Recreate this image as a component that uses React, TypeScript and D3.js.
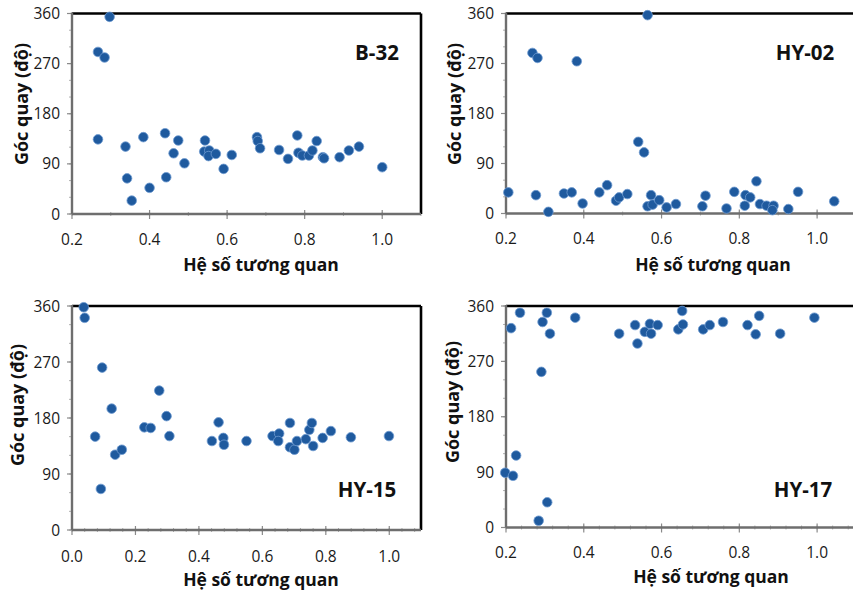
import React from "react";
import * as d3 from "d3";

// [correlation coefficient, rotation angle]
const b32: [number, number][] = [
  [0.297, 354], [0.267, 291], [0.284, 281], [0.267, 134], [0.338, 121],
  [0.384, 138], [0.342, 64], [0.354, 24], [0.44, 145], [0.474, 132],
  [0.462, 109], [0.49, 91], [0.4, 47], [0.443, 66], [0.543, 132],
  [0.541, 112], [0.554, 114], [0.552, 104], [0.571, 108], [0.591, 81],
  [0.612, 106], [0.677, 138], [0.679, 131], [0.685, 118], [0.734, 115],
  [0.757, 99], [0.781, 141], [0.784, 110], [0.794, 105], [0.811, 105],
  [0.82, 114], [0.831, 131], [0.847, 102], [0.85, 100], [0.89, 102],
  [0.914, 114], [0.94, 121], [1.0, 84],
];

const hy02: [number, number][] = [
  [0.564, 357], [0.268, 289], [0.281, 280], [0.382, 274], [0.54, 129],
  [0.555, 110], [0.206, 38], [0.277, 33], [0.309, 3], [0.349, 36],
  [0.369, 38], [0.397, 18], [0.44, 38], [0.46, 51], [0.483, 23],
  [0.491, 29], [0.512, 35], [0.564, 13], [0.573, 33], [0.577, 16],
  [0.594, 24], [0.613, 11], [0.637, 17], [0.705, 13], [0.713, 32],
  [0.767, 9], [0.787, 39], [0.814, 14], [0.816, 33], [0.828, 29],
  [0.844, 58], [0.853, 17], [0.87, 14], [0.888, 14], [0.885, 6],
  [0.926, 8], [0.951, 39], [1.044, 22],
];

const hy15: [number, number][] = [
  [0.037, 358], [0.04, 341], [0.095, 261], [0.073, 150], [0.091, 66],
  [0.125, 195], [0.136, 121], [0.157, 129], [0.228, 165], [0.248, 164],
  [0.275, 224], [0.298, 183], [0.307, 151], [0.441, 143], [0.462, 173],
  [0.477, 148], [0.479, 137], [0.55, 143], [0.632, 151], [0.653, 155],
  [0.65, 143], [0.687, 172], [0.687, 133], [0.701, 129], [0.709, 143],
  [0.737, 146], [0.748, 161], [0.756, 172], [0.76, 135], [0.79, 148],
  [0.816, 159], [0.879, 149], [0.999, 151],
];

const hy17: [number, number][] = [
  [0.198, 89], [0.218, 84], [0.226, 117], [0.213, 324], [0.236, 349],
  [0.291, 253], [0.294, 334], [0.305, 349], [0.313, 315], [0.306, 41],
  [0.284, 11], [0.378, 341], [0.491, 315], [0.532, 329], [0.538, 299],
  [0.557, 318], [0.57, 331], [0.573, 315], [0.59, 329], [0.643, 322],
  [0.653, 352], [0.655, 330], [0.707, 322], [0.724, 329], [0.758, 334],
  [0.821, 329], [0.842, 314], [0.851, 344], [0.905, 315], [0.993, 341],
];

const yTicks = [0, 90, 180, 270, 360];
const xTitle = "Hệ số tương quan";
const yTitle = "Góc quay (độ)";
const FONT = "'Open Sans', 'Liberation Sans', sans-serif";

type PanelProps = {
  name: string;
  data: [number, number][];
  xDomain: [number, number];
  xTicks: number[];
  minorStep: number;
  left: number; right: number; top: number; bottom: number;
  labelPos: [number, number];
  tickLabelY: number;
  xTitlePos: [number, number];
  yTitlePos: [number, number];
};

const Panel = (p: PanelProps) => {
  const x = d3.scaleLinear().domain(p.xDomain).range([p.left, p.right]);
  const y = d3.scaleLinear().domain([0, 360]).range([p.bottom, p.top]);
  const minorX = d3.range(p.xDomain[0], p.xDomain[1] + 1e-9, p.minorStep);
  const minorY = d3.range(0, 361, 30);

  return (
    <g>
      {/* minor ticks */}
      {minorY.map((v, i) => (
        <line key={`my${i}`} x1={p.left - 3} x2={p.left} y1={y(v)} y2={y(v)} stroke="#b0b0b0" strokeWidth={1} />
      ))}
      {minorX.map((v, i) => (
        <line key={`mx${i}`} x1={x(v)} x2={x(v)} y1={p.bottom - 2} y2={p.bottom + 2} stroke="#b0b0b0" strokeWidth={1} />
      ))}
      {/* major ticks */}
      {yTicks.map((v) => (
        <line key={`ty${v}`} x1={p.left - 5} x2={p.left} y1={y(v)} y2={y(v)} stroke="#8a8a8a" strokeWidth={1.2} />
      ))}
      {p.xTicks.map((v) => (
        <line key={`tx${v}`} x1={x(v)} x2={x(v)} y1={p.bottom - 4} y2={p.bottom + 5} stroke="#8a8a8a" strokeWidth={1.2} />
      ))}
      {/* frame: black top/right, grey left/bottom */}
      <line x1={p.left} x2={p.right} y1={p.top} y2={p.top} stroke="#000" strokeWidth={2.6} />
      <line x1={p.right} x2={p.right} y1={p.top} y2={p.bottom} stroke="#000" strokeWidth={2.6} />
      <line x1={p.left} x2={p.left} y1={p.top - 1} y2={p.bottom} stroke="#6e6e6e" strokeWidth={2.4} />
      <line x1={p.left} x2={p.right} y1={p.bottom} y2={p.bottom} stroke="#6e6e6e" strokeWidth={2.4} />

      {/* tick labels */}
      {yTicks.map((v) => (
        <text key={`ly${v}`} x={p.left - 12} y={y(v)} dy="0.36em" textAnchor="end" fontSize={15.5} fontFamily={FONT} fill="#1a1a1a">
          {v}
        </text>
      ))}
      {p.xTicks.map((v) => (
        <text key={`lx${v}`} x={x(v)} y={p.tickLabelY} dy="0.36em" textAnchor="middle" fontSize={15.5} fontFamily={FONT} fill="#1a1a1a">
          {d3.format(".1f")(v)}
        </text>
      ))}

      {/* points */}
      {p.data.map((d, i) => (
        <circle key={i} cx={x(d[0])} cy={y(d[1])} r={4.8} fill="#1f5a9e" stroke="#6f9bd0" strokeWidth={0.8} />
      ))}

      {/* titles */}
      <text x={p.xTitlePos[0]} y={p.xTitlePos[1]} dy="0.35em" textAnchor="middle" fontSize={17.5} fontWeight="bold" fontFamily={FONT} fill="#111">
        {xTitle}
      </text>
      <text
        transform={`translate(${p.yTitlePos[0]},${p.yTitlePos[1]}) rotate(-90)`}
        dy="0.35em" textAnchor="middle" fontSize={18} fontWeight="bold" fontFamily={FONT} fill="#111"
      >
        {yTitle}
      </text>
      <text x={p.labelPos[0]} y={p.labelPos[1]} dy="0.35em" textAnchor="middle" fontSize={20.5} fontWeight="bold" fontFamily={FONT} fill="#111">
        {p.name}
      </text>
    </g>
  );
};

export default function App() {
  return (
    <div style={{ position: "absolute", left: 0, top: 0 }}>
      <svg width={853} height={594} style={{ display: "block", background: "#fff" }}>
        <Panel
          name="B-32" data={b32} xDomain={[0.2, 1.1]} xTicks={[0.2, 0.4, 0.6, 0.8, 1.0]} minorStep={0.1}
          left={72} right={421} top={13.5} bottom={214}
          labelPos={[377, 53]} tickLabelY={239} xTitlePos={[261, 265]} yTitlePos={[22, 104]}
        />
        <Panel
          name="HY-02" data={hy02} xDomain={[0.2, 1.1]} xTicks={[0.2, 0.4, 0.6, 0.8, 1.0]} minorStep={0.1}
          left={506} right={856} top={13.5} bottom={213.5}
          labelPos={[805, 53]} tickLabelY={238} xTitlePos={[713, 265]} yTitlePos={[455, 104]}
        />
        <Panel
          name="HY-15" data={hy15} xDomain={[0, 1.1]} xTicks={[0, 0.2, 0.4, 0.6, 0.8, 1.0]} minorStep={0.04}
          left={72} right={421} top={306} bottom={530}
          labelPos={[367, 490]} tickLabelY={556} xTitlePos={[261, 580]} yTitlePos={[18, 405]}
        />
        <Panel
          name="HY-17" data={hy17} xDomain={[0.2, 1.1]} xTicks={[0.2, 0.4, 0.6, 0.8, 1.0]} minorStep={0.04}
          left={506} right={856} top={306} bottom={527.5}
          labelPos={[803, 490]} tickLabelY={552} xTitlePos={[711, 577]} yTitlePos={[453, 402]}
        />
      </svg>
    </div>
  );
}
